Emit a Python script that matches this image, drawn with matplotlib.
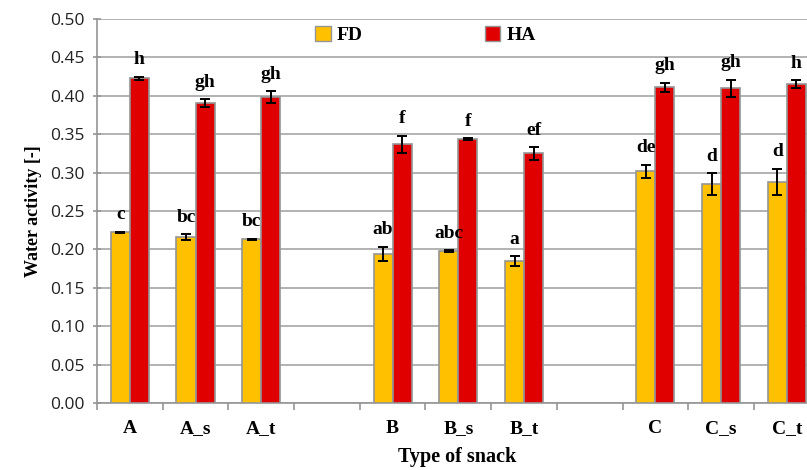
import matplotlib.pyplot as plt
import numpy as np
from matplotlib.patches import Patch

# 데이터
slots = ['A', 'A_s', 'A_t', '', 'B', 'B_s', 'B_t', '', 'C', 'C_s', 'C_t']
fd = [0.222, 0.216, 0.213, 0.194, 0.198, 0.185, 0.302, 0.285, 0.288]
ha = [0.423, 0.391, 0.398, 0.337, 0.344, 0.325, 0.411, 0.410, 0.415]
fd_err = [0.001, 0.0035, 0.001, 0.0095, 0.001, 0.0065, 0.0085, 0.0145, 0.017]
ha_err = [0.002, 0.005, 0.008, 0.011, 0.001, 0.0085, 0.006, 0.011, 0.005]
fd_lab = ['c', 'bc', 'bc', 'ab', 'abc', 'a', 'de', 'd', 'd']
ha_lab = ['h', 'gh', 'gh', 'f', 'f', 'ef', 'gh', 'gh', 'h']
yticks = np.arange(0, 0.501, 0.05)

serif = 'Liberation Serif'
sans = 'Open Sans'

# 빈칸을 뺀 막대 위치
index = np.array([i for i, s in enumerate(slots) if s != ''])
w = 0.29

fig = plt.figure(figsize=(8.07, 4.7), dpi=100)
ax = fig.add_axes([0.1202, 0.1426, 0.8955, 0.817])

ax.bar(index - w / 2, fd, width=w, color='#FFC000', edgecolor='#959595', linewidth=1.2, zorder=3)
ax.bar(index + w / 2, ha, width=w, color='#E00000', edgecolor='#959595', linewidth=1.2, zorder=3)
ax.errorbar(index - w / 2, fd, yerr=fd_err, fmt='none', ecolor='black', elinewidth=1.4, capsize=3.5, capthick=1.4, zorder=4)
ax.errorbar(index + w / 2, ha, yerr=ha_err, fmt='none', ecolor='black', elinewidth=1.4, capsize=3.5, capthick=1.4, zorder=4)

for x, v, e, t in zip(index - w / 2, fd, fd_err, fd_lab):
    ax.annotate(t, (x, v + e), xytext=(0, 6), textcoords='offset points', ha='center', va='bottom',
                fontsize=14, fontweight='bold', family=serif, zorder=5)
for x, v, e, t in zip(index + w / 2, ha, ha_err, ha_lab):
    ax.annotate(t, (x, v + e), xytext=(0, 6), textcoords='offset points', ha='center', va='bottom',
                fontsize=14, fontweight='bold', family=serif, zorder=5)

ax.set_xlim(-0.5, len(slots) - 0.5)
ax.set_ylim(0, 0.5)
ax.set_yticks(yticks)
ax.set_yticklabels(['%.2f' % t for t in yticks], family=sans, fontsize=12.5, color='#222222')
ax.yaxis.grid(True, color='#A6A6A6', linewidth=1.2, zorder=0)
ax.set_axisbelow(True)

ax.set_xticks(np.arange(len(slots)))
ax.set_xticklabels(slots, family=serif, fontweight='bold', fontsize=14)
ax.set_xticks(np.arange(len(slots) + 1) - 0.5, minor=True)
ax.tick_params(axis='x', which='major', length=0, pad=12)
ax.tick_params(axis='x', which='minor', length=5, color='#959595', width=1.2)
ax.tick_params(axis='y', length=6, color='#959595', width=1.2, direction='inout', pad=6)

for s in ['top', 'right']:
    ax.spines[s].set_visible(False)
for s in ['left', 'bottom']:
    ax.spines[s].set_color('#959595')
    ax.spines[s].set_linewidth(1.2)

ax.set_ylabel('Water activity [-]', family=serif, fontweight='bold', fontsize=13, labelpad=6)
fig.text(0.567, 0.018, 'Type of snack', family=serif, fontweight='bold', fontsize=14.5, ha='center')

handles = [Patch(facecolor='#FFC000', edgecolor='#959595', label='FD'),
           Patch(facecolor='#E00000', edgecolor='#959595', label='HA')]
fig.legend(handles=handles, loc='center', bbox_to_anchor=(0.527, 0.926), ncol=2, frameon=False,
           prop={'family': serif, 'weight': 'bold', 'size': 14}, handlelength=0.8, handleheight=0.8,
           handletextpad=0.3, columnspacing=6.3)

plt.savefig('out.png', dpi=100)
